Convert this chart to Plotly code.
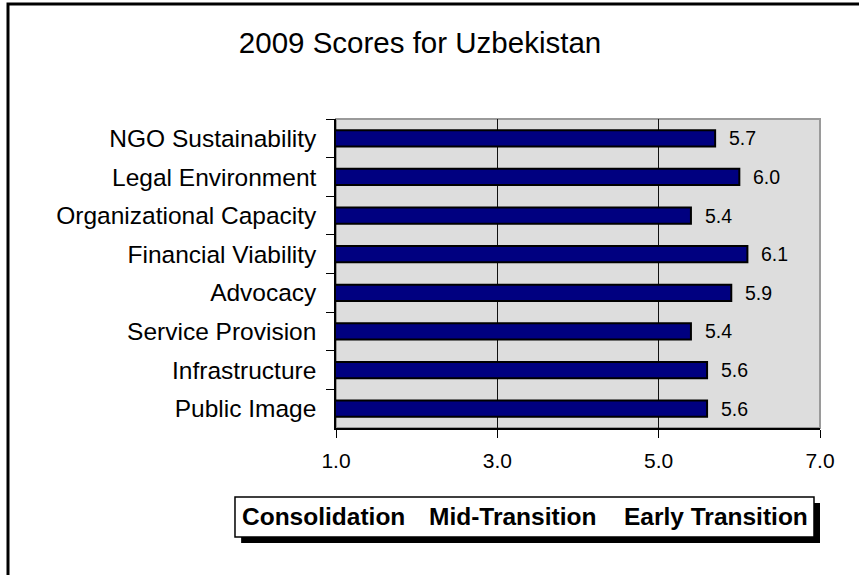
import plotly.graph_objects as go

# datos
CATEGORIAS = ["NGO Sustainability", "Legal Environment", "Organizational Capacity",
              "Financial Viability", "Advocacy", "Service Provision",
              "Infrastructure", "Public Image"]
PUNTAJES = [5.7, 6.0, 5.4, 6.1, 5.9, 5.4, 5.6, 5.6]
TICKS_X = [1.0, 3.0, 5.0, 7.0]
ETAPAS = ["Consolidation", "Mid-Transition", "Early Transition"]

FUENTE = "Arial, Liberation Sans, sans-serif"
AZUL = "#000080"

fig = go.Figure(go.Bar(
    x=PUNTAJES,
    y=CATEGORIAS,
    orientation="h",
    width=0.42,
    marker=dict(color=AZUL, line=dict(color="black", width=2)),
    hoverinfo="skip",
))

# etiquetas de valor a la derecha de cada barra
for cat, val in zip(CATEGORIAS, PUNTAJES):
    fig.add_annotation(x=val, y=cat, text=f"{val:.1f}", showarrow=False,
                       xanchor="left", xshift=12,
                       font=dict(family=FUENTE, size=19.5, color="black"))

# recuadro de etapas con sombra
fig.add_shape(type="rect", xref="paper", yref="paper",
              x0=-0.196, x1=1.0, y0=-0.372, y1=-0.243,
              fillcolor="black", line=dict(width=0))
fig.add_shape(type="rect", xref="paper", yref="paper",
              x0=-0.2087, x1=0.9876, y0=-0.3528, y1=-0.2233,
              fillcolor="white", line=dict(color="black", width=1.5))
for txt, xp in zip(ETAPAS, [-0.0248, 0.3657, 0.785]):
    fig.add_annotation(x=xp, y=-0.288, xref="paper", yref="paper", text=f"<b>{txt}</b>",
                       showarrow=False, xanchor="center", yanchor="middle",
                       font=dict(family=FUENTE, size=24.5, color="black"))

# borde del área de trazado (gris arriba/derecha)
fig.add_shape(type="rect", xref="paper", yref="paper", x0=0, x1=1, y0=0, y1=1,
              line=dict(color="#9a9a9a", width=2), layer="below")

# marco exterior
fig.add_shape(type="rect", xref="paper", yref="paper",
              x0=(8 - 336) / 484, x1=1.2, y0=-0.6, y1=(428 - 4) / 309,
              line=dict(color="black", width=3))

fig.update_layout(
    width=859, height=575,
    paper_bgcolor="white",
    plot_bgcolor="#DDDDDD",
    showlegend=False,
    font=dict(family=FUENTE, color="black"),
    title=dict(text="2009 Scores for Uzbekistan", x=0.489, xanchor="center",
               y=1 - 43 / 575, yanchor="middle",
               font=dict(family=FUENTE, size=29.5, color="black")),
    margin=dict(l=336, r=39, t=119, b=147),
    bargap=0.58,
)
fig.update_xaxes(
    range=[1, 7], tickvals=TICKS_X, tickformat=".1f",
    showgrid=True, gridcolor="#111111", gridwidth=1,
    showline=True, linecolor="black", linewidth=1.5,
    ticks="outside", ticklen=8, tickcolor="black",
    ticklabelstandoff=5,
    tickfont=dict(family=FUENTE, size=21, color="black"),
    zeroline=False, fixedrange=True,
)
fig.update_yaxes(
    autorange="reversed", tickson="boundaries",
    showgrid=False, showline=True, linecolor="black", linewidth=1.5,
    ticks="outside", ticklen=8, tickcolor="black",
    ticklabelstandoff=13,
    tickfont=dict(family=FUENTE, size=24.5, color="black"),
    fixedrange=True,
)

# quitar el margen por defecto del body para que la figura quede en (0, 0)
fig.write_html("out.html", config={"displayModeBar": False},
               post_script="document.body.style.margin='0px';")
